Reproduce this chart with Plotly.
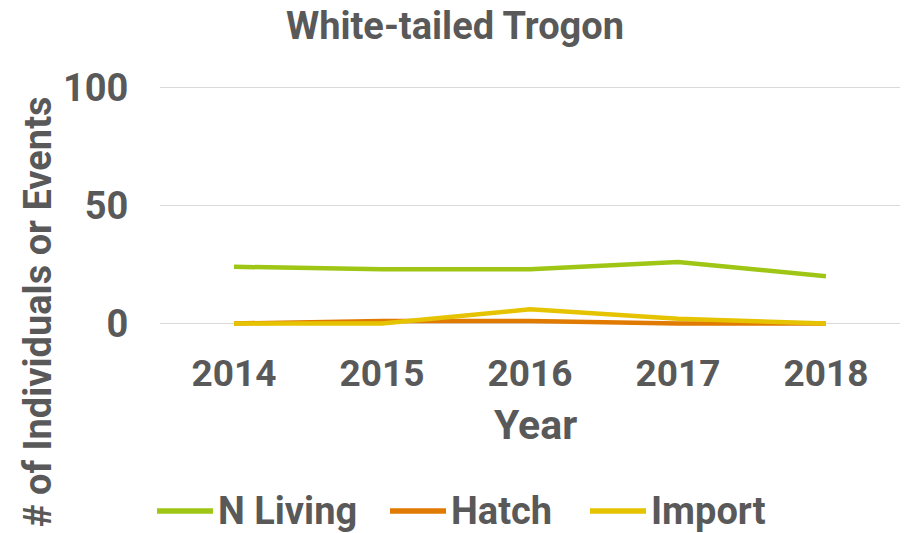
import plotly.graph_objects as go

years = ["2014", "2015", "2016", "2017", "2018"]
n_living = [24, 23, 23, 26, 20]
hatch = [0, 1, 1, 0, 0]
imported = [0, 0, 6, 2, 0]
y_ticks = [0, 50, 100]
series_names = ["N Living", "Hatch", "Import"]
series_colors = ["#9FC615", "#E07A00", "#E6C300"]

FONT = "Roboto"
GREY = "#595959"

W, H = 904, 533
L, R, T, B = 160, 4, 85, 206
PW, PH = W - L - R, H - T - B


def px_x(p):
    return (p - L) / PW


def px_y(p):
    return (T + PH - p) / PH


fig = go.Figure()
for name, vals, col in zip(series_names, [n_living, hatch, imported], series_colors):
    fig.add_trace(go.Scatter(x=years, y=vals, mode="lines", name=name,
                             line=dict(color=col, width=4.5)))

fig.update_layout(
    width=W, height=H,
    margin=dict(l=L, r=R, t=T, b=B, autoexpand=False),
    paper_bgcolor="white", plot_bgcolor="white",
    font=dict(family=FONT, color=GREY, size=34, weight="bold"),
    title=dict(text="<b>White-tailed Trogon</b>", x=455 / W, xanchor="center",
               xref="container", y=1 - 26 / H, yanchor="middle",
               yref="container", font=dict(size=38, color=GREY, family=FONT)),
    showlegend=False,
)
fig.update_xaxes(type="category", range=[-0.5, 4.5], showgrid=False, showline=False,
                 zeroline=False, automargin=False,
                 ticks="", ticklabelstandoff=21,
                 tickfont=dict(size=37, color=GREY, family=FONT, weight="bold"))
fig.update_yaxes(range=[-1.5, 101], tickvals=y_ticks, showgrid=True, automargin=False,
                 gridcolor="#D9D9D9", gridwidth=1.3, zeroline=False, showline=False,
                 ticks="outside", ticklen=23, tickcolor="rgba(0,0,0,0)",
                 tickfont=dict(size=38, color=GREY, family=FONT, weight="bold"))

fig.add_annotation(text="<b># of Individuals or Events</b>", textangle=-90,
                   xref="paper", yref="paper", x=px_x(38),
                   y=px_y(312), showarrow=False,
                   xanchor="center", yanchor="middle",
                   font=dict(size=38, color=GREY, family=FONT))
fig.add_annotation(text="<b>Year</b>", xref="paper", yref="paper",
                   x=px_x(535), y=px_y(425), showarrow=False,
                   xanchor="center", yanchor="middle",
                   font=dict(size=41, color=GREY, family=FONT))

# legend (line sample + label), laid out like the reference
legend_line_x = [(157, 213), (390, 446), (590, 646)]
legend_y = 511
for (x0, x1), name, col in zip(legend_line_x, series_names, series_colors):
    fig.add_shape(type="line", xref="paper", yref="paper",
                  x0=px_x(x0), x1=px_x(x1),
                  y0=px_y(legend_y), y1=px_y(legend_y),
                  line=dict(color=col, width=5.5))
    fig.add_annotation(text="<b>" + name + "</b>", xref="paper", yref="paper",
                       x=px_x(x1 + 3), y=px_y(legend_y), showarrow=False,
                       xanchor="left", yanchor="middle",
                       font=dict(size=38, color=GREY, family=FONT))

fig.write_html("out.html", config={"displayModeBar": False},
               post_script="document.body.style.margin='0';")
